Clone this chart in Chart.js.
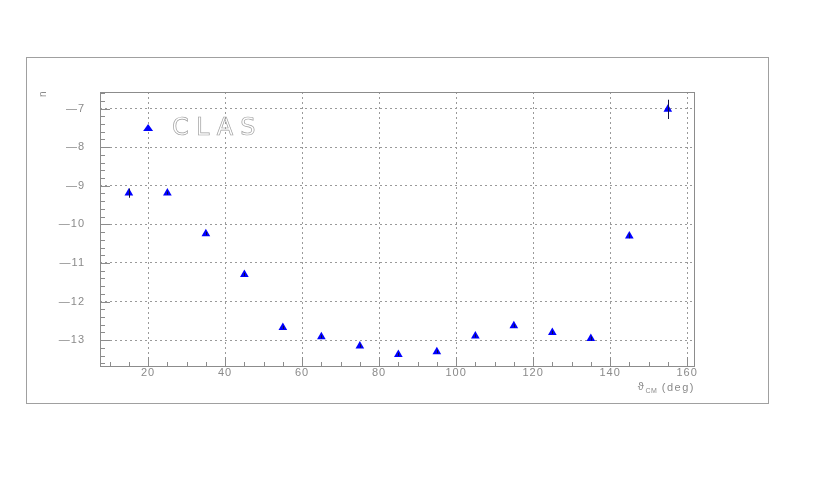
<!DOCTYPE html>
<html>
<head>
<meta charset="utf-8">
<script src="https://cdn.jsdelivr.net/npm/chart.js@4.4.1/dist/chart.umd.min.js"></script>
<style>
  html, body { margin: 0; padding: 0; background: #ffffff; }
  #wrap { width: 817px; height: 491px; }
</style>
</head>
<body>
<div id="wrap"><canvas id="chart" width="817" height="491"></canvas></div>
<script>
// scattering angle in CM frame (deg)
var angles = [15, 25, 35, 45, 55, 65, 75, 85, 95, 105, 115, 125, 135, 145, 155];
// fitted exponent n
var nValues = [-9.19, -9.19, -10.24, -11.30, -12.67, -12.91, -13.15, -13.37, -13.30, -12.89, -12.63, -12.80, -12.96, -10.30, -7.02];
var nErrors = [0.12, 0.04, 0.04, 0.04, 0.04, 0.04, 0.04, 0.04, 0.04, 0.04, 0.04, 0.04, 0.05, 0.06, 0.25];

var xTicks = [20, 40, 60, 80, 100, 120, 140, 160];
var yTicks = [-13, -12, -11, -10, -9, -8, -7];

var seriesLabel = 'CLAS';
var markerColor = '#0000ff';
var textColor = '#8a8a8a';
var gridColor = '#9a9a9a';
var labelFont = '"Liberation Sans", Arial, sans-serif';

var points = [];
for (var i = 0; i < angles.length; i++) {
    points.push({ x: angles[i], y: nValues[i] });
}

// frame, inner ticks, error bars, legend and titles in ROOT style
var rootStyle = {
    id: 'rootStyle',
    beforeDraw: function (chart) {
        var ctx = chart.ctx;
        ctx.save();
        ctx.fillStyle = '#ffffff';
        ctx.fillRect(0, 0, chart.width, chart.height);
        ctx.strokeStyle = '#a0a0a0';
        ctx.lineWidth = 1;
        ctx.strokeRect(26.5, 57.5, 742, 346);
        ctx.restore();
        ctx.letterSpacing = '1px';
    },
    afterDatasetsDraw: function (chart) {
        var ctx = chart.ctx;
        var a = chart.chartArea;
        var xs = chart.scales.x;
        var ys = chart.scales.y;
        ctx.save();

        // error bars
        ctx.strokeStyle = '#101040';
        ctx.lineWidth = 1;
        for (var i = 0; i < angles.length; i++) {
            var px = Math.round(xs.getPixelForValue(angles[i])) + 0.5;
            ctx.beginPath();
            ctx.moveTo(px, ys.getPixelForValue(nValues[i] + nErrors[i]));
            ctx.lineTo(px, ys.getPixelForValue(nValues[i] - nErrors[i]));
            ctx.stroke();
        }

        // plot frame
        ctx.strokeStyle = '#8c8c8c';
        ctx.strokeRect(Math.round(a.left) + 0.5, Math.round(a.top) + 0.5,
            Math.round(a.right - a.left), Math.round(a.bottom - a.top));

        // inner ticks
        ctx.beginPath();
        for (var v = 10; v <= 160; v += 5) {
            var x = Math.round(xs.getPixelForValue(v)) + 0.5;
            var len = (v % 20 === 0) ? 9 : 4;
            ctx.moveTo(x, a.bottom);
            ctx.lineTo(x, a.bottom - len);
        }
        for (var k = -136; k <= -66; k += 2) {
            var yv = k / 10;
            var y = Math.round(ys.getPixelForValue(yv)) + 0.5;
            var ylen = (k % 10 === 0) ? 10 : 5;
            ctx.moveTo(a.left, y);
            ctx.lineTo(a.left + ylen, y);
        }
        ctx.stroke();

        // legend
        var lx = xs.getPixelForValue(20);
        var ly = ys.getPixelForValue(-7.5);
        ctx.fillStyle = markerColor;
        ctx.beginPath();
        ctx.moveTo(lx, ly - 4);
        ctx.lineTo(lx + 5, ly + 3);
        ctx.lineTo(lx - 5, ly + 3);
        ctx.closePath();
        ctx.fill();
        ctx.font = '24px "DejaVu Sans", sans-serif';
        ctx.letterSpacing = '7px';
        ctx.textBaseline = 'middle';
        ctx.textAlign = 'left';
        ctx.strokeStyle = '#a0a0a0';
        ctx.lineWidth = 0.7;
        ctx.strokeText(seriesLabel, lx + 24, ly + 1);

        // x title: theta_CM (deg)
        ctx.letterSpacing = '1.5px';
        ctx.fillStyle = textColor;
        ctx.textBaseline = 'alphabetic';
        ctx.font = '11px ' + labelFont;
        ctx.textAlign = 'right';
        var right = a.right + 1;
        var tail = ' (deg)';
        ctx.fillText(tail, right, 391);
        var tw = ctx.measureText(tail).width;
        ctx.letterSpacing = '0.5px';
        ctx.font = '7px ' + labelFont;
        ctx.fillText('CM', right - tw, 393);
        var sw = ctx.measureText('CM').width;
        ctx.font = '11px ' + labelFont;
        ctx.fillText('\u03D1', right - tw - sw - 1, 390);

        // y title: n
        ctx.save();
        ctx.translate(43, 94);
        ctx.rotate(-Math.PI / 2);
        ctx.textAlign = 'center';
        ctx.textBaseline = 'middle';
        ctx.font = '10px ' + labelFont;
        ctx.fillText('n', 0, 0);
        ctx.restore();

        ctx.restore();
        ctx.letterSpacing = '1px';
    }
};

new Chart(document.getElementById('chart'), {
    type: 'scatter',
    data: {
        datasets: [{
            label: seriesLabel,
            data: points,
            pointStyle: 'triangle',
            pointRadius: 5,
            pointBackgroundColor: markerColor,
            pointBorderColor: markerColor,
            pointBorderWidth: 0
        }]
    },
    options: {
        responsive: false,
        animation: false,
        layout: { padding: { left: 0, right: 123, top: 92, bottom: 95 } },
        plugins: {
            legend: { display: false },
            tooltip: { enabled: false }
        },
        scales: {
            x: {
                type: 'linear',
                min: 7.5,
                max: 161.8,
                afterBuildTicks: function (scale) {
                    scale.ticks = xTicks.map(function (v) { return { value: v }; });
                },
                afterFit: function (scale) { scale.height = 30; },
                ticks: {
                    color: textColor,
                    font: { family: labelFont, size: 11 },
                    padding: 0,
                    maxRotation: 0,
                    autoSkip: false
                },
                grid: { color: gridColor, lineWidth: 1, drawTicks: false },
                border: { display: false, dash: [2, 3] }
            },
            y: {
                type: 'linear',
                min: -13.67,
                max: -6.57,
                afterBuildTicks: function (scale) {
                    scale.ticks = yTicks.map(function (v) { return { value: v }; });
                },
                afterFit: function (scale) { scale.width = 100; },
                ticks: {
                    color: textColor,
                    font: { family: labelFont, size: 11 },
                    padding: 15,
                    callback: function (value) {
                        return '\u2014' + Math.abs(value);
                    }
                },
                grid: { color: gridColor, lineWidth: 1, drawTicks: false },
                border: { display: false, dash: [2, 3] }
            }
        }
    },
    plugins: [rootStyle]
});
</script>
</body>
</html>
